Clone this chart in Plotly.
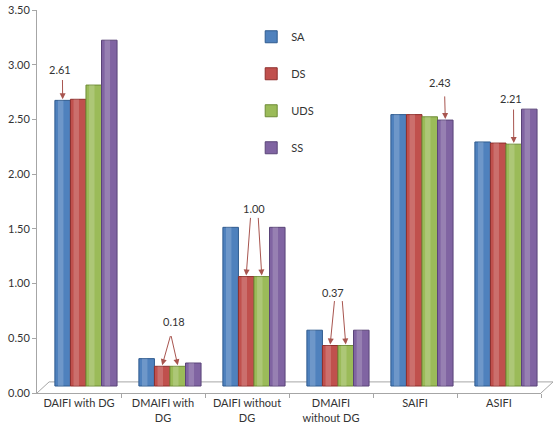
import plotly.graph_objects as go

categories = ["DAIFI with DG", "DMAIFI with<br>DG", "DAIFI without<br>DG", "DMAIFI<br>without DG", "SAIFI", "ASIFI"]
series_names = ["SA", "DS", "UDS", "SS"]
SA = [2.61, 0.25, 1.45, 0.51, 2.48, 2.23]
DS = [2.62, 0.18, 1.00, 0.37, 2.48, 2.22]
UDS = [2.75, 0.18, 1.00, 0.37, 2.46, 2.21]
SS = [3.16, 0.21, 1.45, 0.51, 2.43, 2.53]
series_values = [SA, DS, UDS, SS]
colors = ["#4F81BD", "#C0504D", "#9BBB59", "#8064A2"]
edges = ["#2f5b8f", "#8e2f2c", "#6e8c36", "#5a4478"]
y_ticks = [0, 0.5, 1.0, 1.5, 2.0, 2.5, 3.0, 3.5]

idx = list(range(len(categories)))

bw = (1 - 0.26) / 4
off = {"SA": -1.5 * bw, "DS": -0.5 * bw, "UDS": 0.5 * bw, "SS": 1.5 * bw}

fig = go.Figure()
for name, vals, c, e in zip(series_names, series_values, colors, edges):
    fig.add_trace(go.Bar(
        x=idx, y=vals, name=name, xaxis="x2", yaxis="y2",
        width=bw, offset=off[name] - bw / 2,
        marker=dict(color=c, line=dict(color=e, width=1)),
        legendgroup=name,
    ))
    # cylinder highlight
    fig.add_trace(go.Bar(
        x=idx, y=vals, name=name, xaxis="x2", yaxis="y2",
        width=bw * 0.35, offset=off[name] - bw * 0.3,
        marker=dict(color="rgba(255,255,255,0.18)", line=dict(width=0)),
        showlegend=False, hoverinfo="skip", legendgroup=name,
    ))

# invisible trace to anchor main axes
fig.add_trace(go.Scatter(x=[0], y=[0], mode="markers", marker=dict(opacity=0),
                         showlegend=False, hoverinfo="skip"))

ann = []
arrow_col = "#a8554f"
def arrow(cat, ser, val, tx, ty):
    ann.append(dict(x=cat + off[ser], y=val + 0.01, xref="x2", yref="y2",
                    ax=tx, ay=ty, axref="x2", ayref="y2", text="",
                    showarrow=True, arrowhead=2, arrowsize=1.2, arrowwidth=1,
                    arrowcolor=arrow_col))
def label(txt, x, y):
    ann.append(dict(x=x, y=y, xref="x2", yref="y2", text=txt, showarrow=False,
                    font=dict(size=11, color="#333333", family="Lato")))

label("2.61", -0.31, 2.89)
arrow(0, "SA", SA[0], -0.28, 2.81)
label("0.18", 1.05, 0.59)
arrow(1, "DS", DS[1], 1.01, 0.47)
arrow(1, "UDS", UDS[1], 1.01, 0.47)
label("1.00", 2.0, 1.62)
arrow(2, "DS", DS[2], 1.96, 1.55)
arrow(2, "UDS", UDS[2], 2.05, 1.55)
label("0.37", 2.94, 0.85)
arrow(3, "DS", DS[3], 2.96, 0.79)
arrow(3, "UDS", UDS[3], 3.05, 0.79)
label("2.43", 4.21, 2.77)
arrow(4, "SS", SS[4], 4.27, 2.66)
label("2.21", 5.06, 2.63)
arrow(5, "UDS", UDS[5], 5.09, 2.54)

# floor (3D base)
floor_col = "#a6a6a6"
shapes = [
    dict(type="line", xref="paper", yref="paper", x0=0, y0=0, x1=0.024, y1=0.029,
         line=dict(color=floor_col, width=1)),
    dict(type="line", xref="paper", yref="paper", x0=1.0, y0=0, x1=1.024, y1=0.029,
         line=dict(color=floor_col, width=1)),
    dict(type="line", xref="paper", yref="paper", x0=0.024, y0=0.029, x1=1.024, y1=0.029,
         line=dict(color=floor_col, width=1), layer="below"),
]

fig.update_layout(
    width=553, height=436,
    margin=dict(l=37, r=12, t=10, b=43, autoexpand=False),
    paper_bgcolor="white", plot_bgcolor="white",
    barmode="group", bargap=0.26, bargroupgap=0,
    font=dict(family="Lato", size=11, color="#333333"),
    xaxis=dict(range=[-0.5, 5.5], tickmode="array", tickvals=idx, ticktext=categories,
               ticks="", showline=True, linecolor=floor_col, linewidth=1, automargin=False,
               showgrid=False, zeroline=False, tickfont=dict(size=11),
               minor=dict(tickmode="array", tickvals=[i + 0.5 for i in idx[:-1]] + [5.5],
                          ticks="outside", ticklen=4, tickcolor=floor_col, showgrid=False)),
    yaxis=dict(range=[0, 3.5], tickmode="array", tickvals=y_ticks, automargin=False,
               ticktext=[f"{v:.2f}" for v in y_ticks], ticks="outside", ticklen=4,
               tickcolor=floor_col, showline=True, linecolor=floor_col, linewidth=1,
               showgrid=False, zeroline=False, tickfont=dict(size=11)),
    xaxis2=dict(range=[-0.583, 5.417], overlaying="x", visible=False, automargin=False),
    yaxis2=dict(range=[-0.064, 3.436], overlaying="y", visible=False, automargin=False),
    legend=dict(x=0.425, y=0.968, xanchor="left", yanchor="top", bgcolor="rgba(0,0,0,0)",
                tracegroupgap=18, font=dict(size=11, color="#333333")),
    annotations=ann, shapes=shapes,
    showlegend=True,
)

fig.write_html("out.html", config={"displayModeBar": False},
               post_script="document.body.style.margin='0';")
